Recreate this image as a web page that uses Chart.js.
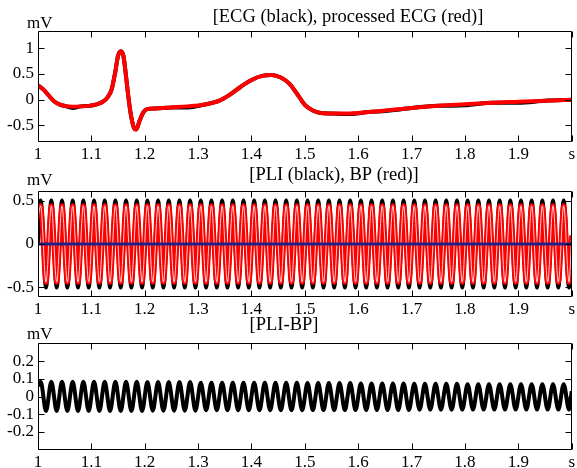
<!DOCTYPE html>
<html>
<head>
<meta charset="utf-8">
<script src="https://cdn.jsdelivr.net/npm/chart.js@4.4.0/dist/chart.umd.min.js"></script>
<style>
html, body { margin: 0; padding: 0; background: #fff; }
#wrap { position: relative; width: 577px; height: 468px; }
canvas { position: absolute; left: 0; }
</style>
</head>
<body>
<div id="wrap">
  <canvas id="ecg-chart" width="577" height="165" style="top:0px"></canvas>
  <canvas id="pli-chart" width="577" height="150" style="top:165px"></canvas>
  <canvas id="diff-chart" width="577" height="153" style="top:315px"></canvas>
</div>
<script>
// x axis (seconds)
const xTicks = [1, 1.1, 1.2, 1.3, 1.4, 1.5, 1.6, 1.7, 1.8, 1.9, 2];

// panel 1: ECG
const ecgTicks = [-0.5, 0, 0.5, 1];
const tEcg = [1.000,1.010,1.020,1.030,1.040,1.050,1.065,1.080,1.095,1.110,
  1.120,1.130,1.138,1.145,1.150,1.155,1.160,1.165,1.170,1.175,
  1.180,1.184,1.190,1.197,1.205,1.220,1.250,1.280,1.310,1.340,
  1.360,1.380,1.400,1.420,1.437,1.455,1.470,1.485,1.500,1.515,
  1.530,1.550,1.580,1.620,1.660,1.700,1.750,1.800,1.850,1.900,
  1.950,2.000];
const ecgRaw = [0.28,0.20,0.08,-0.03,-0.09,-0.12,-0.16,-0.13,-0.12,-0.09,
  -0.05,0.04,0.20,0.55,0.85,0.94,0.85,0.45,0.00,-0.35,
  -0.55,-0.58,-0.42,-0.25,-0.18,-0.17,-0.15,-0.15,-0.10,-0.02,
  0.10,0.25,0.38,0.46,0.48,0.43,0.32,0.12,-0.10,-0.21,
  -0.26,-0.27,-0.28,-0.24,-0.21,-0.16,-0.12,-0.11,-0.06,-0.06,
  -0.02,0.00];
const ecgProc = [0.28,0.20,0.08,-0.03,-0.09,-0.12,-0.135,-0.13,-0.12,-0.09,
  -0.05,0.04,0.20,0.55,0.85,0.94,0.85,0.45,0.00,-0.35,
  -0.55,-0.58,-0.42,-0.25,-0.18,-0.17,-0.15,-0.13,-0.10,-0.02,
  0.10,0.25,0.38,0.46,0.48,0.43,0.32,0.12,-0.10,-0.21,
  -0.26,-0.27,-0.27,-0.24,-0.20,-0.16,-0.12,-0.09,-0.06,-0.04,
  -0.02,0.00];

// panel 2 / 3: 50 Hz interference, sampled at its peaks and troughs
const pliTicks = [-0.5, 0, 0.5];
const diffTicks = [-0.2, -0.1, 0, 0.1, 0.2];
const tPli = [1.000,
  1.005,1.015,1.025,1.035,1.045,1.055,1.065,1.075,1.085,1.095,
  1.105,1.115,1.125,1.135,1.145,1.155,1.165,1.175,1.185,1.195,
  1.205,1.215,1.225,1.235,1.245,1.255,1.265,1.275,1.285,1.295,
  1.305,1.315,1.325,1.335,1.345,1.355,1.365,1.375,1.385,1.395,
  1.405,1.415,1.425,1.435,1.445,1.455,1.465,1.475,1.485,1.495,
  1.505,1.515,1.525,1.535,1.545,1.555,1.565,1.575,1.585,1.595,
  1.605,1.615,1.625,1.635,1.645,1.655,1.665,1.675,1.685,1.695,
  1.705,1.715,1.725,1.735,1.745,1.755,1.765,1.775,1.785,1.795,
  1.805,1.815,1.825,1.835,1.845,1.855,1.865,1.875,1.885,1.895,
  1.905,1.915,1.925,1.935,1.945,1.955,1.965,1.975,1.985,1.995,
  2.000];
const pli = [0,
  0.5,-0.5,0.5,-0.5,0.5,-0.5,0.5,-0.5,0.5,-0.5,
  0.5,-0.5,0.5,-0.5,0.5,-0.5,0.5,-0.5,0.5,-0.5,
  0.5,-0.5,0.5,-0.5,0.5,-0.5,0.5,-0.5,0.5,-0.5,
  0.5,-0.5,0.5,-0.5,0.5,-0.5,0.5,-0.5,0.5,-0.5,
  0.5,-0.5,0.5,-0.5,0.5,-0.5,0.5,-0.5,0.5,-0.5,
  0.5,-0.5,0.5,-0.5,0.5,-0.5,0.5,-0.5,0.5,-0.5,
  0.5,-0.5,0.5,-0.5,0.5,-0.5,0.5,-0.5,0.5,-0.5,
  0.5,-0.5,0.5,-0.5,0.5,-0.5,0.5,-0.5,0.5,-0.5,
  0.5,-0.5,0.5,-0.5,0.5,-0.5,0.5,-0.5,0.5,-0.5,
  0.5,-0.5,0.5,-0.5,0.5,-0.5,0.5,-0.5,0.5,-0.5,
  0];
const bp = [0.3,
  0.44,-0.44,0.44,-0.44,0.44,-0.44,0.44,-0.44,0.44,-0.44,
  0.44,-0.44,0.44,-0.44,0.44,-0.44,0.44,-0.44,0.44,-0.44,
  0.44,-0.44,0.44,-0.44,0.44,-0.44,0.44,-0.44,0.44,-0.44,
  0.44,-0.44,0.44,-0.44,0.44,-0.44,0.44,-0.44,0.44,-0.44,
  0.44,-0.44,0.44,-0.44,0.44,-0.44,0.44,-0.44,0.44,-0.44,
  0.44,-0.44,0.44,-0.44,0.44,-0.44,0.44,-0.44,0.44,-0.44,
  0.44,-0.44,0.44,-0.44,0.44,-0.44,0.44,-0.44,0.44,-0.44,
  0.44,-0.44,0.44,-0.44,0.44,-0.44,0.44,-0.44,0.44,-0.44,
  0.44,-0.44,0.44,-0.44,0.44,-0.44,0.44,-0.44,0.44,-0.44,
  0.44,-0.44,0.44,-0.44,0.44,-0.44,0.44,-0.44,0.44,-0.44,
  0.1];
const zeroT = [1, 2];
const zeroV = [0, 0];
const pliDiff = [0.06,
  0.084,-0.082,0.084,-0.082,0.084,-0.082,0.084,-0.082,0.084,-0.082,
  0.084,-0.082,0.084,-0.082,0.084,-0.082,0.084,-0.082,0.084,-0.082,
  0.082,-0.080,0.082,-0.080,0.082,-0.080,0.082,-0.080,0.082,-0.080,
  0.078,-0.078,0.078,-0.078,0.078,-0.078,0.078,-0.078,0.078,-0.078,
  0.078,-0.078,0.078,-0.078,0.078,-0.078,0.078,-0.078,0.078,-0.078,
  0.076,-0.077,0.076,-0.077,0.076,-0.077,0.076,-0.077,0.076,-0.077,
  0.074,-0.076,0.074,-0.076,0.074,-0.076,0.074,-0.076,0.074,-0.076,
  0.072,-0.075,0.072,-0.075,0.072,-0.075,0.072,-0.075,0.072,-0.075,
  0.070,-0.074,0.070,-0.074,0.070,-0.074,0.070,-0.074,0.070,-0.074,
  0.070,-0.074,0.070,-0.074,0.070,-0.074,0.070,-0.074,0.070,-0.074,
  0.03];

const FONT = '"Liberation Serif", "Times New Roman", serif';

// box, inward tick marks, title and unit
const framePlugin = {
  id: 'frame',
  afterDatasetsDraw(chart, args, opts) {
    const {ctx, chartArea: a, scales: {x, y}} = chart;
    const L = Math.round(a.left) + 0.5, R = Math.round(a.right) - 0.5;
    const T = Math.round(a.top) + 0.5, B = Math.round(a.bottom) - 0.5;
    ctx.save();
    ctx.strokeStyle = '#000';
    ctx.lineWidth = 1;
    ctx.beginPath();
    ctx.rect(L, T, R - L, B - T);
    for (const t of x.ticks) {
      const px = Math.round(x.getPixelForValue(t.value)) + 0.5;
      ctx.moveTo(px, B); ctx.lineTo(px, B - 6);
      ctx.moveTo(px, T); ctx.lineTo(px, T + 6);
    }
    for (const t of y.ticks) {
      const py = Math.round(y.getPixelForValue(t.value)) + 0.5;
      ctx.moveTo(L, py); ctx.lineTo(L + 6, py);
      ctx.moveTo(R, py); ctx.lineTo(R - 6, py);
    }
    ctx.stroke();
    ctx.fillStyle = '#000';
    ctx.textBaseline = 'alphabetic';
    ctx.font = '18.5px ' + FONT;
    ctx.textAlign = 'center';
    ctx.fillText(opts.title, opts.titleX, opts.titleY);
    ctx.font = '17px ' + FONT;
    ctx.textAlign = 'left';
    ctx.fillText('mV', 27, opts.unitY);
    ctx.restore();
  }
};

const chartLib = {
  init() {
    // first dataset is drawn on top
    this.drawPanel('ecg-chart', tEcg, [
      this.line(ecgProc, '#ff0000', 4),
      this.line(ecgRaw, '#000000', 4)
    ], {min: -0.82, max: 1.33, ticks: ecgTicks, top: 31, xH: 23,
        title: '[ECG (black), processed ECG (red)]', titleX: 348, titleY: 22, unitY: 28});

    const zero = this.line(zeroT.map((t, i) => ({x: t, y: zeroV[i]})), '#20208a', 3);
    this.drawPanel('pli-chart', tPli, [
      zero,
      this.line(bp, '#ffd0d0', 1),
      this.line(bp, '#ff0000', 5),
      this.line(pli, '#000000', 4)
    ], {min: -0.61, max: 0.61, ticks: pliTicks, top: 26, xH: 18,
        title: '[PLI (black), BP (red)]', titleX: 334, titleY: 15, unitY: 20});

    this.drawPanel('diff-chart', tPli, [
      this.line(pliDiff, '#000000', 4)
    ], {min: -0.303, max: 0.303, ticks: diffTicks, top: 28, xH: 18,
        title: '[PLI-BP]', titleX: 284, titleY: 15, unitY: 24});
  },
  line(data, color, width) {
    return {
      data,
      borderColor: color,
      borderWidth: width,
      pointRadius: 0,
      fill: false,
      cubicInterpolationMode: 'monotone'
    };
  },
  drawPanel(targetId, labels, datasets, p) {
    const tickFont = {family: FONT, size: 17};
    new Chart(document.getElementById(targetId), {
      type: 'line',
      data: {labels, datasets},
      plugins: [framePlugin],
      options: {
        responsive: false,
        animation: false,
        events: [],
        layout: {padding: {top: p.top, right: 4, left: 0, bottom: 0}},
        plugins: {
          legend: {display: false},
          tooltip: {enabled: false},
          frame: {title: p.title, titleX: p.titleX, titleY: p.titleY, unitY: p.unitY}
        },
        scales: {
          x: {
            type: 'linear', min: 1, max: 2,
            afterBuildTicks: s => { s.ticks = xTicks.map(v => ({value: v})); },
            afterFit: s => { s.height = p.xH; },
            grid: {display: false, drawTicks: false},
            border: {display: false},
            ticks: {
              autoSkip: false, maxRotation: 0, padding: 2, color: '#000', font: tickFont,
              callback: v => v === 2 ? 's' : String(v)
            }
          },
          y: {
            min: p.min, max: p.max,
            afterBuildTicks: s => { s.ticks = p.ticks.map(v => ({value: v})); },
            afterFit: s => { s.width = 38; },
            grid: {display: false, drawTicks: false},
            border: {display: false},
            ticks: {padding: 4, color: '#000', font: tickFont, callback: v => String(v)}
          }
        }
      }
    });
  }
};

window.addEventListener('DOMContentLoaded', function() {
  chartLib.init();
});
</script>
</body>
</html>
